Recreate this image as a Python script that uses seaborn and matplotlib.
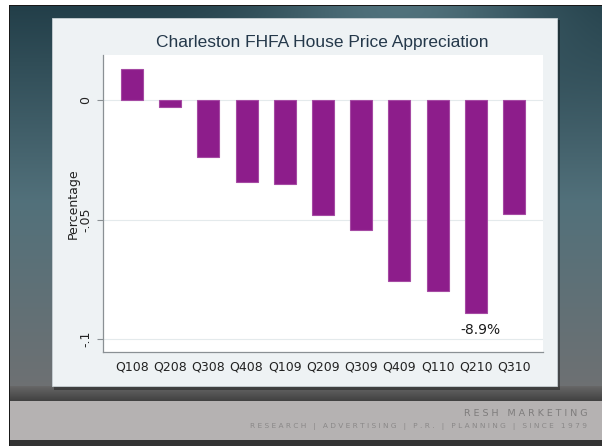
import numpy as np
import pandas as pd
import matplotlib
matplotlib.use("Agg")
import matplotlib.pyplot as plt
from matplotlib.patches import Rectangle
import seaborn as sns

# Quarterly house price appreciation, Charleston (FHFA index)
quarters = ["Q108", "Q208", "Q308", "Q408", "Q109", "Q209",
            "Q309", "Q409", "Q110", "Q210", "Q310"]
appreciation = [0.0130, -0.0029, -0.0240, -0.0342, -0.0353, -0.0481,
                -0.0544, -0.0756, -0.0798, -0.0890, -0.0477]
ytick_values = [0.0, -0.05, -0.1]
ytick_labels = ["0", "-.05", "-.1"]
callout_quarter = "Q210"

df = pd.DataFrame({"quarter": quarters, "appreciation": appreciation})

W, H = 602, 446
sns.set_theme(style="white")
plt.rcParams["font.family"] = ["DejaVu Sans"]

fig = plt.figure(figsize=(W / 100, H / 100), dpi=100)
fig.patch.set_facecolor("white")

# ---- slide backdrop drawn in pixel coordinates ----
bg = fig.add_axes([0, 0, 1, 1], zorder=0)
bg.set_xlim(0, W)
bg.set_ylim(H, 0)
bg.axis("off")

yy = np.arange(H)[:, None] * np.ones((1, W))
xx = np.ones((H, 1)) * np.arange(W)[None, :]
img = np.ones((H, W, 3))

top_c = np.array([0.13, 0.24, 0.28])
mid_c = np.array([0.32, 0.44, 0.48])
low_c = np.array([0.43, 0.44, 0.45])
t1 = np.clip(yy / 200.0, 0, 1)[..., None]
t2 = np.clip((yy - 200) / 186.0, 0, 1)[..., None]
base = top_c * (1 - t1) + mid_c * t1
base = base * (1 - t2) + low_c * t2
# lighter sheen across the upper edge
sheen = np.exp(-((xx - 400) / 140.0) ** 2) * np.exp(-(yy / 60.0) ** 2)
base = base + sheen[..., None] * np.array([0.18, 0.20, 0.20])
img[:] = base

# dark strip under the panel
m = (yy >= 386) & (yy < 401)
f = ((yy - 386) / 15.0)[..., None]
strip = np.array([0.40, 0.40, 0.40]) * (1 - f) + np.array([0.25, 0.25, 0.25]) * f
img[m] = strip[m]
# light footer band
m = (yy >= 401) & (yy < 440)
img[m] = np.array([0.71, 0.70, 0.70])
m = yy >= 440
img[m] = np.array([0.20, 0.20, 0.20])
# white margin and bezel edge
img[:, :9] = 1.0
img[:5, :] = 1.0
img[5:, 9] = 0.1
img[5, 9:] = 0.1

bg.imshow(img, extent=(0, W, H, 0), aspect="auto", interpolation="bilinear", zorder=0)

# graph panel with a soft shadow
bg.add_patch(Rectangle((54, 20), 506, 370, facecolor="black", alpha=0.35,
                       edgecolor="none", zorder=1))
bg.add_patch(Rectangle((52, 18), 505, 368, facecolor="#eef2f4",
                       edgecolor="#c8d0d4", lw=0.6, zorder=2))

# footer text
def spaced(s):
    return " ".join(s)

bg.text(587, 413, spaced("RESH MARKETING"), ha="right", va="center",
        fontsize=6.8, color="#7e7c7c", zorder=3)
bg.text(587, 426, spaced("RESEARCH | ADVERTISING | P.R. | PLANNING | SINCE 1979"),
        ha="right", va="center", fontsize=5.3, color="#8a8888", zorder=3)

# title
bg.text(322, 43, "Charleston FHFA House Price Appreciation", ha="center",
        va="center", fontsize=12.5, color="#24384a",
        family=["Liberation Sans", "DejaVu Sans"], zorder=3)

# ---- main bar chart ----
left, right, top, bottom = 103, 543, 55, 352
ax = fig.add_axes([left / W, 1 - bottom / H, (right - left) / W, (bottom - top) / H],
                  zorder=2)
ax.set_facecolor("white")

sns.barplot(data=df, x="quarter", y="appreciation", color="#8d1d8b",
            saturation=1, width=0.58, edgecolor="#a54aa3", linewidth=0.8, ax=ax)

ax.set_xlim(-0.76, len(quarters) - 1 + 0.76)
ax.set_ylim(-0.1054, 0.0188)

ax.set_yticks(ytick_values)
ax.set_yticklabels(ytick_labels, rotation=90, va="center")
ax.tick_params(axis="y", direction="out", length=4, width=0.8, color="#8a9094",
               pad=4, labelsize=9, labelcolor="#222222", left=True)
ax.tick_params(axis="x", length=0, pad=6, labelsize=9, labelcolor="#222222")

ax.yaxis.grid(True, color="#e4eaec", lw=0.8)
ax.xaxis.grid(False)
ax.set_axisbelow(True)

for side in ["top", "right"]:
    ax.spines[side].set_visible(False)
for side in ["left", "bottom"]:
    ax.spines[side].set_color("#8a9094")
    ax.spines[side].set_linewidth(0.9)

ax.set_xlabel("")
ax.set_ylabel("Percentage", fontsize=9, color="#222222")
ax.yaxis.set_label_coords(-(left - 80) / (right - left), 0.5)

# callout for the deepest quarter
i = quarters.index(callout_quarter)
v = appreciation[i]
ax.annotate(f"{v * 100:.1f}%", xy=(i, v), xytext=(3, -7),
            textcoords="offset points", ha="center", va="top",
            fontsize=10, color="#1a1a1a")

fig.savefig("out.png", dpi=100, facecolor=fig.get_facecolor())
